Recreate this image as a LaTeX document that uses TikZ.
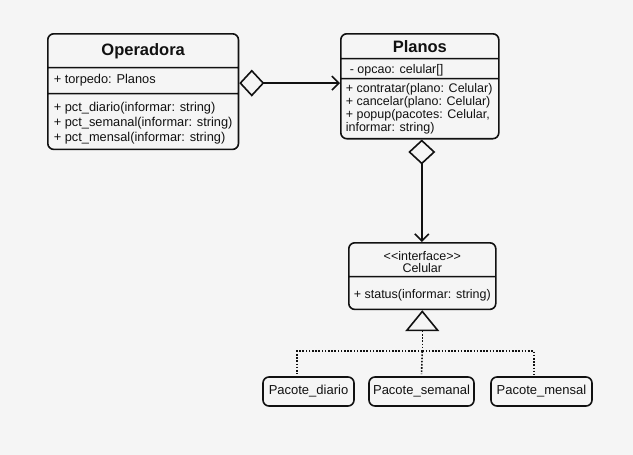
\documentclass[tikz,border=0pt]{standalone}
\usepackage{fontspec}
\setmainfont{Liberation Sans}
\usetikzlibrary{shapes.multipart,arrows.meta,positioning}
\definecolor{canvas}{HTML}{F5F5F5}
\definecolor{ink}{HTML}{111111}
% strut: height above baseline, depth below
\newcommand{\sz}[2]{\rule[-#2]{0pt}{\dimexpr#1+#2\relax}}

\begin{document}
\begin{tikzpicture}[x=1pt,y=-1pt, color=ink,
    umlclass/.style={rectangle split, rectangle split parts=3, draw,
      line width=1.6pt, rounded corners=6pt, fill=canvas, inner ysep=0pt,
      inner xsep=6pt, align=left, rectangle split part align={center,left,left},
      font=\fontsize{12.8}{15}\selectfont},
    pacote/.style={draw, line width=1.6pt, rounded corners=6pt, fill=canvas,
      minimum height=29pt, inner xsep=3pt, font=\fontsize{13}{15}\selectfont},
    agg/.style={line width=1.6pt,
      {Diamond[open,length=25pt,width=27pt]}-{Straight Barb[length=7pt,width=14pt]}},
    impl/.style={line width=1.6pt, dash pattern=on 1.6pt off 1.6pt}]

  \fill[canvas] (0,0) rectangle (633,455);

  \node[umlclass, minimum width=190pt, anchor=north west] (Operadora) at (47,33)
    {\sz{20.7pt}{11.5pt}{\fontsize{16.5}{18}\selectfont\bfseries Operadora}
     \nodepart{two}\sz{15.4pt}{9pt}+ torpedo: Planos
     \nodepart{three}\sz{16.7pt}{0pt}+ pct\_diario(informar: string)\\
     + pct\_semanal(informar: string)\\
     + pct\_mensal(informar: string)\sz{0pt}{7.5pt}};

  \node[umlclass, minimum width=158pt, inner xsep=5pt, anchor=north west,
    font=\fontsize{12.5}{13}\selectfont] (Planos) at (340,33)
    {\sz{17.7pt}{5.5pt}{\fontsize{16.5}{18}\selectfont\bfseries Planos}
     \nodepart{two}\hspace{4pt}\sz{14.4pt}{4pt}- opcao: celular[]
     \nodepart{three}\sz{12.7pt}{0pt}+ contratar(plano: Celular)\\
     + cancelar(plano: Celular)\\
     + popup(pacotes: Celular,\\
     informar: string)\sz{0pt}{6.8pt}};

  \node[umlclass, rectangle split parts=2, rectangle split part align={center,center},
    align=center, minimum width=147pt, inner xsep=2pt, anchor=north west,
    font=\fontsize{12.5}{12}\selectfont] (Celular) at (348,242)
    {\sz{17pt}{0pt}<{}<interface>{}>\\
     Celular\sz{0pt}{3.2pt}
     \nodepart{two}\sz{21pt}{10.2pt}+ status(informar: string)};

  \node[pacote, minimum width=91pt] (diario) at (308.5,391.5) {Pacote\_diario};
  \node[pacote, minimum width=105pt, right=13.4pt of diario] (semanal) {Pacote\_semanal};
  \node[pacote, minimum width=101pt, right=15.4pt of semanal] (mensal) {Pacote\_mensal};

  % aggregations
  \coordinate (opout) at ([yshift=8.5pt]Operadora.east);
  \draw[agg] (opout) -- (opout -| Planos.west);
  \draw[agg] ([xshift=-0.5pt]Planos.south -| Celular.north) -- ([xshift=-0.5pt]Celular.north);

  % realizations
  \coordinate (split) at ([yshift=-41pt]Celular.south);
  \draw[impl, {Triangle[open,length=21pt,width=34pt]}-] (Celular.south) -- (split);
  \draw[impl] (split) -| ([xshift=-11.5pt,yshift=2pt]diario.north);
  \draw[impl] (split) -- ([yshift=2pt]semanal.north);
  \draw[impl] (split) -| ([xshift=-7.5pt,yshift=2pt]mensal.north);
\end{tikzpicture}
\end{document}
